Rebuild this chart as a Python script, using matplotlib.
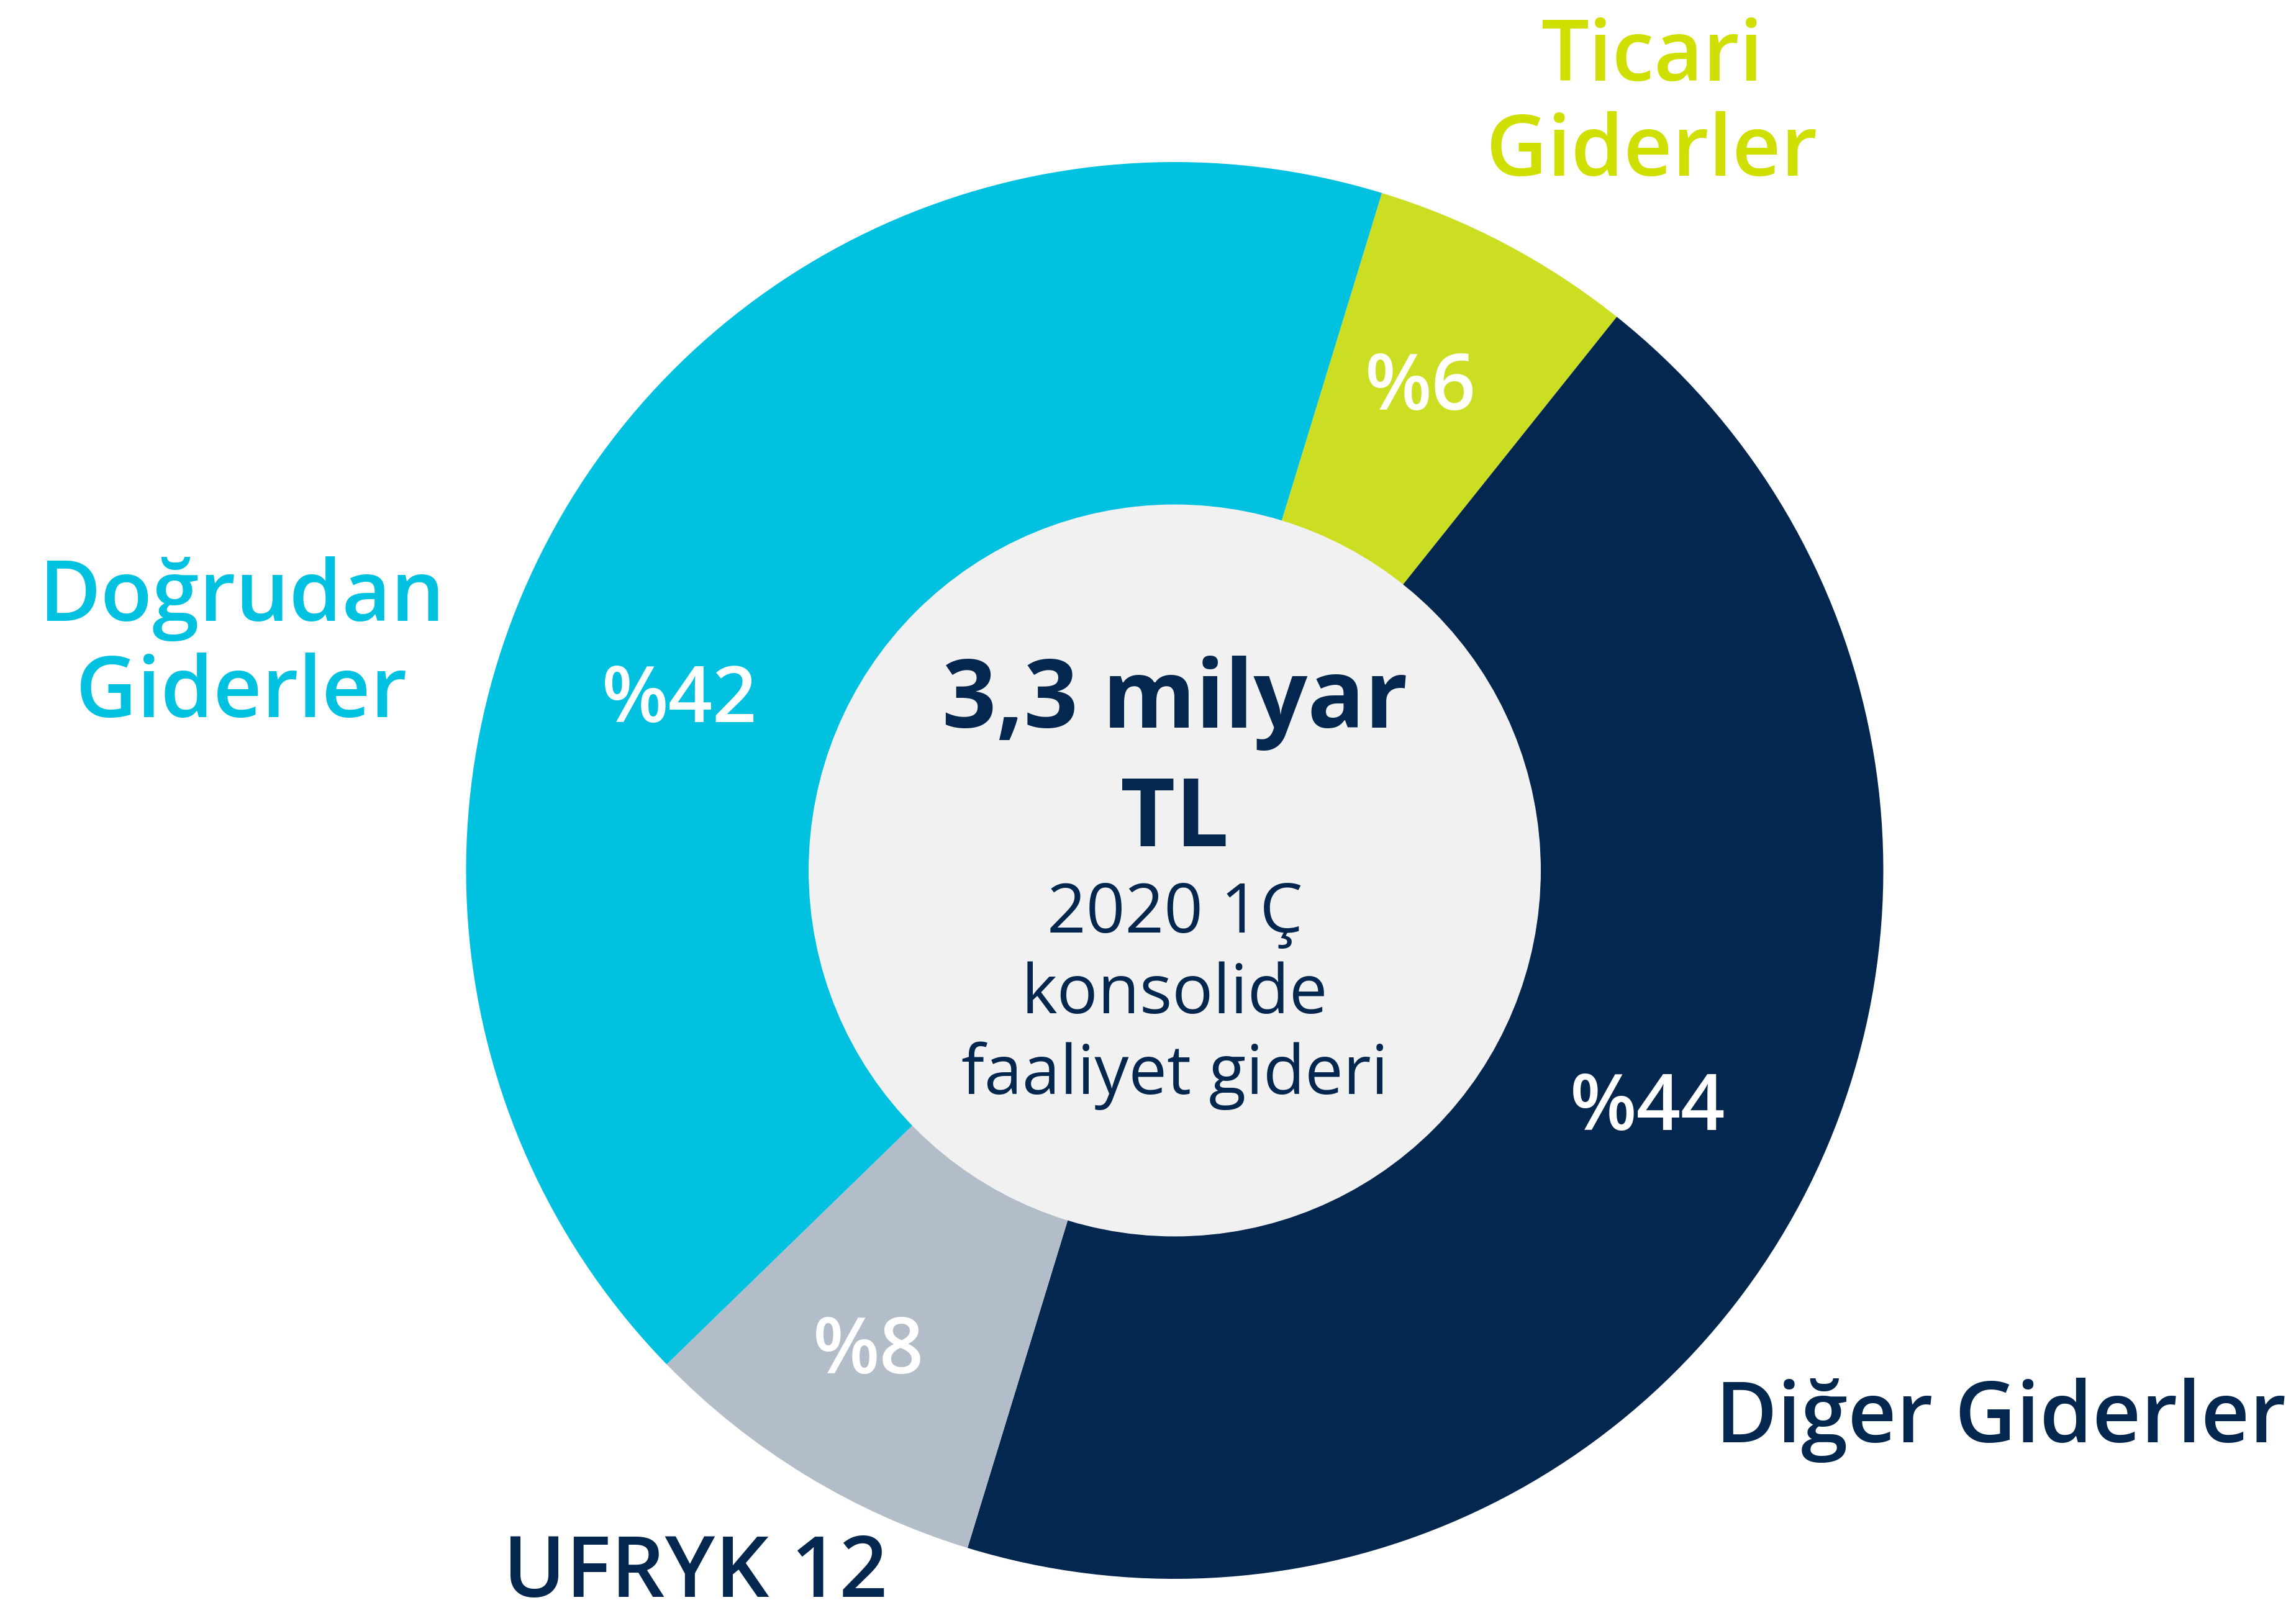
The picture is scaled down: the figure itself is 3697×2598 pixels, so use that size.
import matplotlib.pyplot as plt

# data
categories = ['Ticari Giderler', 'Diğer Giderler', 'UFRYK 12', 'Doğrudan Giderler']
shares = [6, 44, 8, 42]
pct_labels = ['%' + str(v) for v in shares]
colors = ['#cbde22', '#04274f', '#b3bdca', '#00c1df']
label_colors = ['#cfdf00', '#04274f', '#04274f', '#00c1df']
center_lines = ['3,3 milyar', 'TL', '2020 1Ç', 'konsolide', 'faaliyet gideri']

W, H = 3698, 2598
cx, cy, R = 1891.5, 1402, 1141
plt.rcParams['font.family'] = ['Open Sans', 'DejaVu Sans']

fig = plt.figure(figsize=(W / 100, H / 100), dpi=100)
ax = fig.add_axes([0, 0, 1, 1])
ax.pie(shares, colors=colors, startangle=73, counterclock=False, radius=1,
       wedgeprops=dict(width=0.484, linewidth=0))
ax.add_patch(plt.Circle((0, 0), 0.516, color='#f1f1f1', zorder=3))
# pie() resets limits, so set them afterwards
ax.set_xlim(-cx / R, (W - cx) / R)
ax.set_ylim(-(H - cy) / R, cy / R)
ax.set_aspect('equal')
ax.axis('off')

# text layer in pixel coords
tx = fig.add_axes([0, 0, 1, 1])
tx.set_xlim(0, W)
tx.set_ylim(H, 0)
tx.axis('off')
tx.patch.set_alpha(0)

navy = '#04274f'
# category labels
cat_pos = [(2660, [130, 283]), (3221, [2323]), (1120, [2572]), (389, [1000, 1155])]
cat_lines = [['Ticari', 'Giderler'], ['Diğer Giderler'], ['UFRYK 12'], ['Doğrudan', 'Giderler']]
for (x, ys), lines, c in zip(cat_pos, cat_lines, label_colors):
    for y, t in zip(ys, lines):
        tx.text(x, y, t, color=c, fontsize=98, fontweight='semibold',
                ha='center', va='baseline')

# percentage labels
pct_pos = [(2287, 660), (2653, 1820), (1398, 2212), (1094, 1163)]
for (x, y), t in zip(pct_pos, pct_labels):
    tx.text(x, y, t, color='white', fontsize=90, fontweight='semibold',
            ha='center', va='baseline')

# center text
center_y = [1172, 1363, 1502, 1632, 1762]
for i, (y, t) in enumerate(zip(center_y, center_lines)):
    tx.text(cx, y, t, color=navy, fontsize=110 if i < 2 else 79,
            fontweight='bold' if i < 2 else 'normal',
            ha='center', va='baseline', zorder=5)

fig.savefig('out.png', dpi=100, facecolor='white')
